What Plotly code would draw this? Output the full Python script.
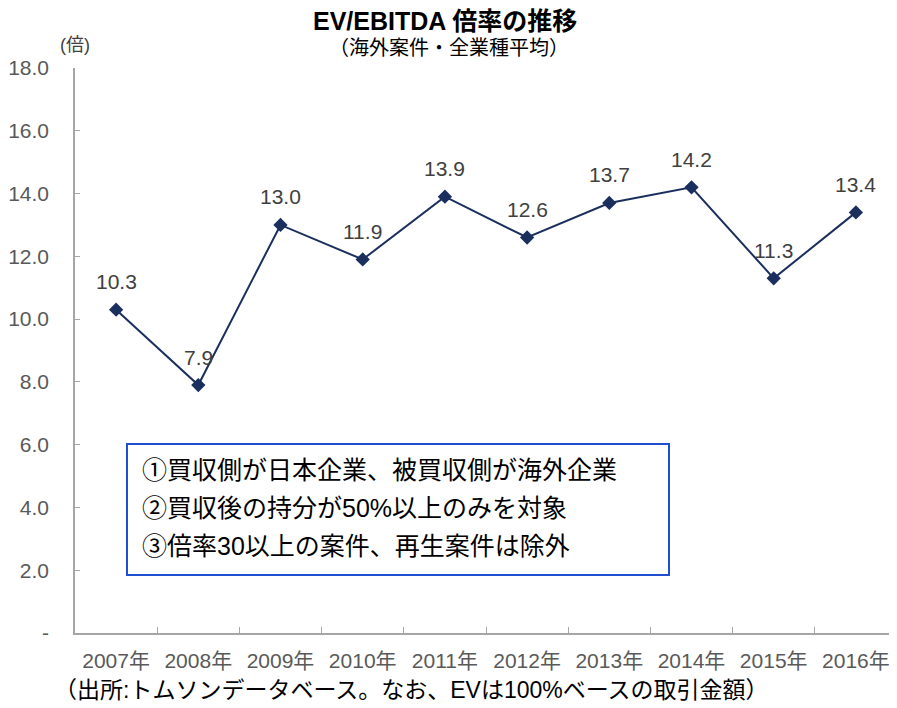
import plotly.graph_objects as go

years = ["2007年", "2008年", "2009年", "2010年", "2011年", "2012年", "2013年", "2014年", "2015年", "2016年"]
ratios = [10.3, 7.9, 13.0, 11.9, 13.9, 12.6, 13.7, 14.2, 11.3, 13.4]
y_tickvals = [0, 2, 4, 6, 8, 10, 12, 14, 16, 18]
y_ticktext = ["-", "2.0", "4.0", "6.0", "8.0", "10.0", "12.0", "14.0", "16.0", "18.0"]
notes = ["①買収側が日本企業、被買収側が海外企業",
         "②買収後の持分が50%以上のみを対象",
         "③倍率30以上の案件、再生案件は除外"]

LAT = "Liberation Sans, Arial, sans-serif"
JP = "Liberation Sans, Noto Sans CJK JP, sans-serif"

OFF = 8  # page body margin
W, H = 897 - OFF, 708 - OFF
L, R, T, B = 75 - OFF, 0, 68 - OFF, 708 - 633
ph = H - T - B
pw = W - L - R

def py(pix):
    return (H - B - (pix - OFF)) / ph

def px(pix):
    return ((pix - OFF) - L) / pw

fig = go.Figure()
fig.add_trace(go.Scatter(
    x=years, y=ratios, mode="lines+markers",
    line=dict(color="#1B2F5E", width=2),
    marker=dict(symbol="diamond", size=11, color="#1B2F5E"),
    hoverinfo="skip", showlegend=False,
))

ann = []
for yr, v in zip(years, ratios):
    ann.append(dict(x=yr, y=v, xref="x", yref="y", text=f"{v:.1f}", showarrow=False,
                    yshift=28, font=dict(family=LAT, size=21, color="#404040")))

ann.append(dict(x=px(445), y=py(21), xref="paper", yref="paper", text="<b>EV/EBITDA 倍率の推移</b>",
                showarrow=False, xanchor="center", yanchor="middle",
                font=dict(family=JP, size=25, color="#000000")))
ann.append(dict(x=px(449), y=py(48), xref="paper", yref="paper", text="（海外案件・全業種平均）",
                showarrow=False, xanchor="center", yanchor="middle",
                font=dict(family=JP, size=20, color="#000000")))
ann.append(dict(x=px(75), y=py(45), xref="paper", yref="paper", text="(倍)",
                showarrow=False, xanchor="center", yanchor="middle",
                font=dict(family=JP, size=18, color="#404040")))
ann.append(dict(x=px(52), y=py(690), xref="paper", yref="paper",
                text="（出所:トムソンデータベース。なお、EVは100%ベースの取引金額）",
                showarrow=False, xanchor="left", yanchor="middle",
                font=dict(family=JP, size=23, color="#000000")))
for t, yy in zip(notes, [470, 508, 546]):
    ann.append(dict(x=px(140), y=py(yy), xref="paper", yref="paper", text=t,
                    showarrow=False, xanchor="left", yanchor="middle",
                    font=dict(family=JP, size=25, color="#000000")))

fig.add_shape(type="rect", xref="paper", yref="paper",
              x0=px(127), x1=px(669), y0=py(575), y1=py(444),
              line=dict(color="#1F4FD0", width=2), fillcolor="rgba(0,0,0,0)")

fig.update_layout(
    width=W, height=H,
    margin=dict(l=L, r=R, t=T, b=B),
    paper_bgcolor="white", plot_bgcolor="white",
    annotations=ann,
    xaxis=dict(type="category", showgrid=False, showline=True, linecolor="#A6A6A6", linewidth=1.5,
               ticks="inside", tickson="boundaries", ticklen=6, tickcolor="#A6A6A6",
               tickfont=dict(family=JP, size=21, color="#595959"), ticklabelstandoff=8,
               range=[-0.5, 9.5], fixedrange=True, automargin=False),
    yaxis=dict(range=[0, 18], tickvals=y_tickvals, ticktext=y_ticktext, showgrid=False,
               zeroline=False, showline=True, linecolor="#A6A6A6", linewidth=1.5,
               ticks="inside", ticklen=5, tickcolor="#A6A6A6",
               tickfont=dict(family=LAT, size=21, color="#595959"), ticklabelstandoff=20,
               fixedrange=True, automargin=False),
)

fig.write_html("out.html")
